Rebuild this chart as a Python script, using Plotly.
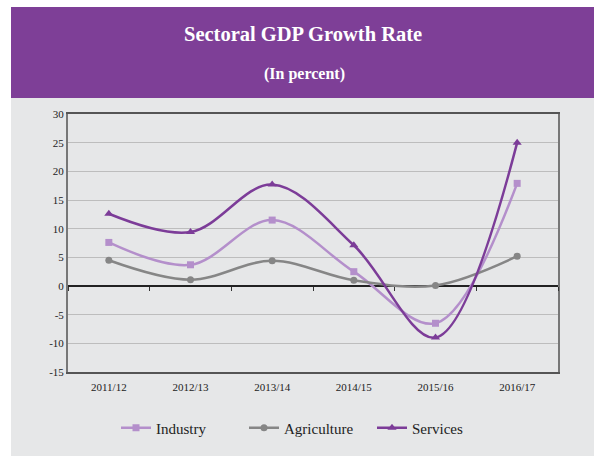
import plotly.graph_objects as go

# Fiscal years and sectoral growth rates (percent)
years = ["2011/12", "2012/13", "2013/14", "2014/15", "2015/16", "2016/17"]
industry = [7.6, 3.7, 11.5, 2.5, -6.5, 17.9]
agriculture = [4.5, 1.1, 4.4, 1.0, 0.1, 5.2]
services = [12.6, 9.4, 17.7, 7.1, -9.0, 25.0]

y_ticks = [-15, -10, -5, 0, 5, 10, 15, 20, 25, 30]

HEADER = "#7E3F97"
PANEL = "#E6E7E8"
SERIF = "Liberation Serif"

# plot area geometry in pixels
W, H = 594, 456
L, R, T, B = 68, 36, 114, 84
pw, ph = W - L - R, H - T - B


def px_x(x):
    return (x - L) / pw


def px_y(y):
    return 1 - (y - T) / ph


fig = go.Figure()

series = [
    ("Industry", industry, "#B48FCB", "square", 7),
    ("Agriculture", agriculture, "#868686", "circle", 7),
    ("Services", services, "#7C3C98", "triangle-up", 8),
]
for name, vals, color, symbol, size in series:
    fig.add_trace(go.Scatter(
        x=years, y=vals, name=name, mode="lines+markers",
        line=dict(color=color, width=2.5, shape="spline", smoothing=1.0),
        marker=dict(symbol=symbol, size=size, color=color),
    ))

# carrier trace for the category axis drawn along y = 0
fig.add_trace(go.Scatter(
    x=years, y=[None] * len(years), xaxis="x2", showlegend=False,
    hoverinfo="skip", mode="lines",
))

ymin, ymax = y_ticks[0], y_ticks[-1]
xrange = [-0.5, len(years) - 0.5]

fig.update_layout(
    width=W, height=H,
    margin=dict(l=L, r=R, t=T, b=B),
    paper_bgcolor="white",
    plot_bgcolor="rgba(0,0,0,0)",
    font=dict(family=SERIF, color="#222222"),
    showlegend=True,
    legend=dict(
        orientation="h", x=px_x(116), xanchor="left", y=px_y(428), yanchor="middle",
        font=dict(family=SERIF, size=15, color="#222222"),
        bgcolor="rgba(0,0,0,0)", itemwidth=30, tracegroupgap=0,
        entrywidth=83, entrywidthmode="pixels",
    ),
    xaxis=dict(
        type="category", categoryorder="array", categoryarray=years,
        range=xrange,
        showline=True, linecolor="#555555", linewidth=1.5, mirror=True,
        ticks="", showgrid=False, tickfont=dict(size=11, family=SERIF, color="#222222"),
        ticklabelstandoff=4,
    ),
    xaxis2=dict(
        type="category", categoryorder="array", categoryarray=years,
        range=xrange,
        overlaying="x", anchor="free",
        position=(0 - ymin) / (ymax - ymin),
        side="bottom", showline=False, showgrid=False, showticklabels=False,
        ticks="outside", ticklen=4, tickcolor="#333333", tickwidth=1,
        tickson="boundaries",
    ),
    yaxis=dict(
        range=[ymin, ymax], tickvals=y_ticks, ticktext=[str(v) for v in y_ticks],
        showgrid=True, gridcolor="#BDBDBD", gridwidth=1.2,
        zeroline=True, zerolinecolor="#222222", zerolinewidth=1.5,
        showline=True, linecolor="#777777", linewidth=2, mirror=True,
        ticks="", tickfont=dict(size=11, family=SERIF, color="#222222"),
    ),
    shapes=[
        dict(type="rect", xref="paper", yref="paper", layer="below",
             x0=px_x(11), x1=px_x(W + 5), y0=px_y(H + 5), y1=px_y(98),
             fillcolor=PANEL, line=dict(width=0)),
        dict(type="rect", xref="paper", yref="paper", layer="below",
             x0=px_x(11), x1=px_x(W + 5), y0=px_y(98), y1=px_y(7),
             fillcolor=HEADER, line=dict(width=0)),
    ],
    annotations=[
        dict(text="<b>Sectoral GDP Growth Rate</b>", xref="paper", yref="paper",
             x=px_x(303), y=px_y(34), xanchor="center", yanchor="middle",
             showarrow=False, font=dict(family=SERIF, size=20.5, color="white")),
        dict(text="<b>(In percent)</b>", xref="paper", yref="paper",
             x=px_x(304), y=px_y(74), xanchor="center", yanchor="middle",
             showarrow=False, font=dict(family=SERIF, size=16, color="white")),
    ],
)

fig.write_html("out.html")
